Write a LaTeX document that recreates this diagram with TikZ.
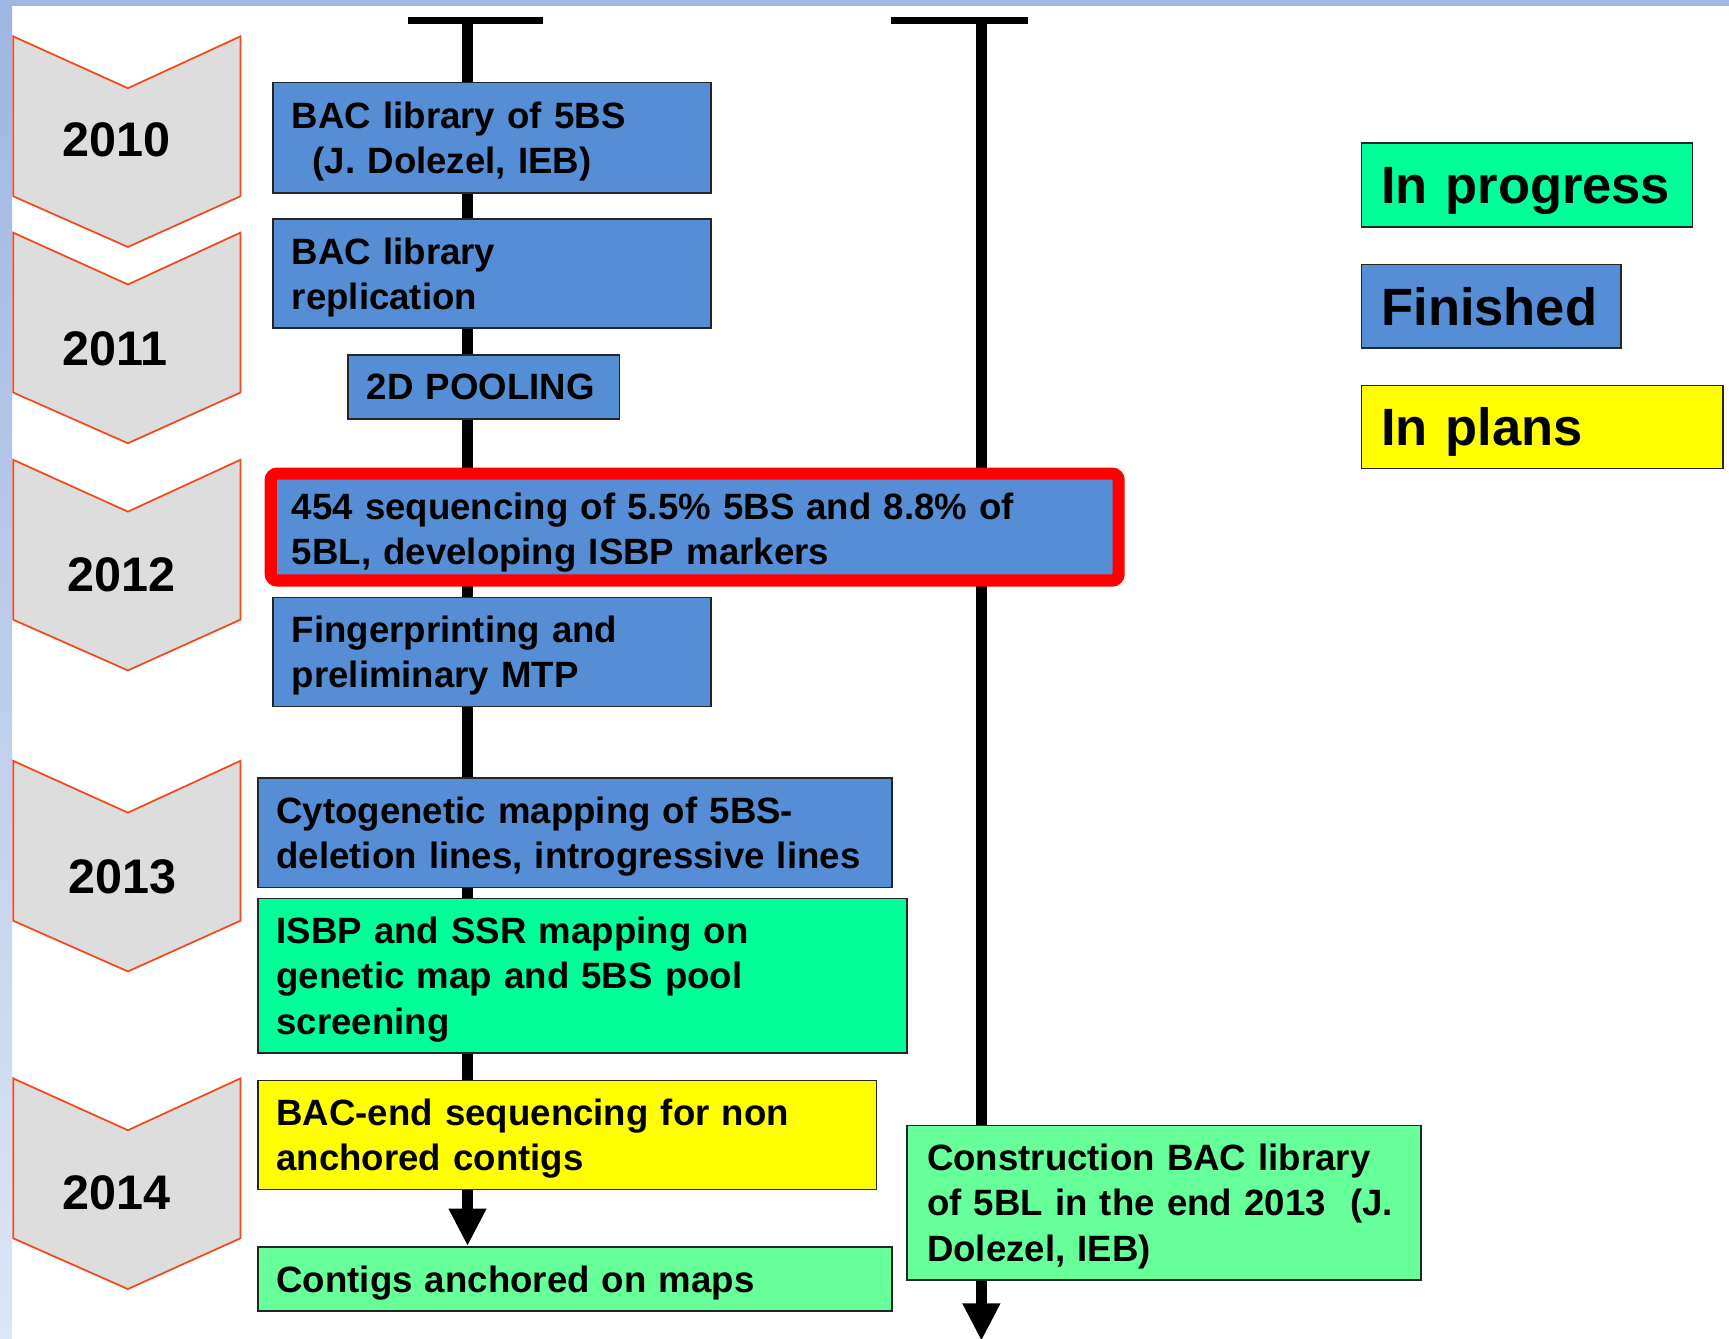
\documentclass[tikz,border=0pt]{standalone}
\usepackage{fontspec}
\setmainfont{Liberation Sans}
\usetikzlibrary{arrows.meta,backgrounds}
\definecolor{finblue}{HTML}{558ED5}
\definecolor{progreen}{HTML}{00FF99}
\definecolor{ltgreen}{HTML}{66FF99}
\definecolor{planyellow}{HTML}{FFFF00}
\definecolor{chevfill}{HTML}{DDDDDD}
\definecolor{chevline}{HTML}{F04A1E}
\definecolor{framea}{HTML}{9DB6E2}
\definecolor{frameb}{HTML}{DCE5F5}
\begin{document}
\begin{tikzpicture}[x=0.5pt,y=-0.5pt,
  task/.style={draw=black!85, line width=0.75pt, rectangle, anchor=north west, inner xsep=8.5pt, inner ysep=0pt, align=left,
    font=\fontsize{16.6}{20.5}\selectfont\bfseries,
    execute at begin node={\rule{0pt}{16pt}}, execute at end node={\rule[-4pt]{0pt}{4pt}}},
  legendbox/.style={draw=black!85, line width=0.75pt, rectangle, anchor=north west, inner xsep=0pt, inner ysep=0pt, align=left,
    font=\fontsize{23.8}{28}\selectfont\bfseries,
    execute at begin node={\hspace*{9pt}\rule{0pt}{22pt}}, execute at end node={\rule[-4.8pt]{0pt}{4.8pt}}},
  year/.style={font=\fontsize{22}{26}\selectfont\bfseries, inner sep=0pt},
  chev/.style={fill=chevfill, draw=chevline, line width=0.8pt, line join=miter},
  axis/.style={line width=5pt},
  tbar/.style={line width=3.5pt},
  tip/.style={-{Triangle[width=16pt,length=17pt]}}
]
\useasboundingbox (0,0) rectangle (1568,1214);
% frame
\shade[top color=framea, bottom color=frameb] (0,0) rectangle (11,1214);
\fill[framea] (0,0) rectangle (1568,5);

% chevrons
\foreach \T/\yr/\tx/\ty in {33/2010/106/127, 211/2011/104/316, 417/2012/110/521, 690/2013/111/795, 978/2014/106/1082}{
  \draw[chev] (12,\T) -- (116,\T+47) -- (218,\T) -- (218,\T+145) -- (116,\T+191) -- (12,\T+145) -- cycle;
  \node[year] (year\yr) at (\tx,\ty) {\yr};
}

% highlight
\draw[red, fill=finblue, line width=5.5pt, rounded corners=3pt] (245.5,429.5) rectangle (1014.5,526.5);

% tasks
\node[task, fill=finblue, minimum width=198.5pt, minimum height=50pt, text width=181.5pt] (bac) at (247,74)
  {BAC library of 5BS\\\hspace*{9.4pt}(J. Dolezel, IEB)};
\node[task, fill=finblue, minimum width=198.5pt, minimum height=49.5pt, text width=181.5pt] (repl) at (247,198)
  {BAC library\\replication};
\node[task, fill=finblue, minimum width=123pt, minimum height=29pt, text width=106pt] (pool) at (315,321)
  {2D POOLING};
\node[task, fill=finblue, draw=none, inner xsep=6pt, minimum width=378pt, minimum height=41.5pt, text width=366pt] (seq) at (252,437)
  {454 sequencing of 5.5\% 5BS and 8.8\% of\\5BL, developing ISBP markers};
\node[task, fill=finblue, minimum width=198.5pt, minimum height=49.5pt, text width=181.5pt] (finger) at (247,541)
  {Fingerprinting and\\preliminary MTP};
\node[task, fill=finblue, minimum width=287.5pt, minimum height=49.5pt, text width=270.5pt] (cyto) at (233,705)
  {Cytogenetic mapping of 5BS-\\deletion lines, introgressive lines};
\node[task, fill=progreen, minimum width=294.5pt, minimum height=70pt, text width=277.5pt] (isbp) at (233,814)
  {ISBP and SSR mapping on\\genetic map and 5BS pool\\screening};
\node[task, fill=planyellow, minimum width=280.5pt, minimum height=49.5pt, text width=263.5pt] (bacend) at (233,979)
  {BAC-end sequencing for non\\anchored contigs};
\node[task, fill=ltgreen, minimum width=287.5pt, minimum height=29pt, text width=270.5pt] (contigs) at (233,1130)
  {Contigs anchored on maps};
\node[task, fill=ltgreen, inner xsep=9pt, minimum width=233pt, minimum height=70pt, text width=215pt] (constr) at (822,1020)
  {Construction BAC library\\of 5BL in the end 2013\ \ (J.\\Dolezel, IEB)};

% legend
\node[legendbox, fill=progreen, minimum width=150pt, minimum height=38pt, text width=150pt] (lprog) at (1234,129) {In progress};
\node[legendbox, fill=finblue, minimum width=117.5pt, minimum height=38pt, text width=117.5pt] (lfin) at (1234,239) {Finished};
\node[legendbox, fill=planyellow, minimum width=164pt, minimum height=37.5pt, text width=164pt] (lplan) at (1234,349) {In plans};

% timelines
\coordinate (tL) at (424,18.5);
\coordinate (tLa) at (370,18.5);
\coordinate (tLb) at (492,18.5);
\coordinate (tR) at (890,18.5);
\coordinate (tRa) at (808,18.5);
\coordinate (tRb) at (932,18.5);
\coordinate (endR) at (890,1216);
\begin{pgfonlayer}{background}
  \fill[white] (0,0) rectangle (1568,1214);
  \draw[tbar] (tLa) -- (tLb);
  \draw[tbar] (tRa) -- (tRb);
  \draw[axis, tip] (tL) -- (tL |- contigs.north);
  \draw[axis] (tR) -- (tR |- constr.north);
  \draw[axis, tip] (tR |- constr.south) -- (endR);
\end{pgfonlayer}
\end{tikzpicture}
\end{document}
